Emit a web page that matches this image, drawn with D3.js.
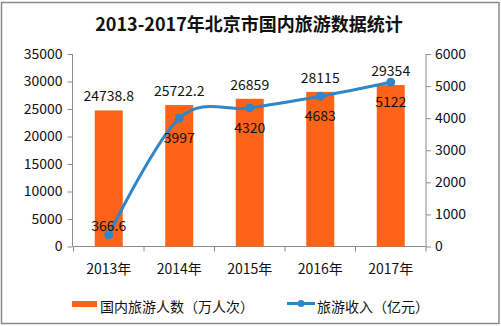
<!DOCTYPE html>
<html><head><meta charset="utf-8">
<script src="https://cdn.jsdelivr.net/npm/d3@7"></script>
<style>body{margin:0;background:#fff}svg{display:block}</style>
</head><body>
<script>
const title = "2013-2017年北京市国内旅游数据统计";
const categories = ["2013年","2014年","2015年","2016年","2017年"];
const visitors = [24738.8, 25722.2, 26859, 28115, 29354];
const visitorLabels = ["24738.8","25722.2","26859","28115","29354"];
const revenue = [366.6, 3997, 4320, 4683, 5122];
const revenueLabels = ["366.6","3997","4320","4683","5122"];
const leftTicks = [0,5000,10000,15000,20000,25000,30000,35000];
const rightTicks = [0,1000,2000,3000,4000,5000,6000];
const seriesNames = ["国内旅游人数（万人次）","旅游收入（亿元）"];

const W=501,H=326;
const font='"Noto Sans CJK SC","Noto Sans",sans-serif';
const barColor="#FF6319", lineColor="#2F86C9", axisColor="#8C8C8C";
const svg=d3.select("body").append("svg").attr("width",W).attr("height",H);
svg.append("rect").attr("x",1.5).attr("y",2.5).attr("width",497.5).attr("height",321)
  .attr("fill","#fff").attr("stroke","#8a8a8a").attr("stroke-width",1.5);

svg.append("text").attr("x",249).attr("y",23).attr("text-anchor","middle").attr("dominant-baseline","central")
  .attr("font-family",font).attr("font-weight","bold").attr("font-size",18).attr("fill","#111").text(title);

const x=d3.scaleBand().domain(categories).range([73.5,426]);
const yL=d3.scaleLinear().domain([0,35000]).range([246.5,54]);
const yR=d3.scaleLinear().domain([0,6000]).range([246.5,54]);
const bw=28;

// axes
const gL=svg.append("g").attr("transform","translate(72.5,0)")
  .call(d3.axisLeft(yL).tickValues(leftTicks).tickSize(5).tickPadding(5).tickFormat(d3.format("d")));
const gR=svg.append("g").attr("transform","translate(426,0)")
  .call(d3.axisRight(yR).tickValues(rightTicks).tickSize(5).tickPadding(4).tickFormat(d3.format("d")));
[gL,gR].forEach(g=>{
  g.select(".domain").attr("stroke",axisColor).attr("d", g===gL?"M0,54V246.5":"M0,54V246.5");
  g.selectAll(".tick line").attr("stroke",axisColor);
  g.selectAll("text").attr("font-family",font).attr("font-size",14).attr("fill","#111");
});
// x axis
const gX=svg.append("g").attr("transform","translate(0,246.5)");
gX.append("line").attr("x1",72.5).attr("x2",426).attr("stroke",axisColor);
const bounds=categories.map(c=>x(c)).concat([x.range()[1]]);
gX.selectAll(".xt").data(bounds).enter().append("line")
  .attr("x1",d=>d).attr("x2",d=>d).attr("y1",0).attr("y2",5).attr("stroke",axisColor);
gX.selectAll(".xl").data(categories).enter().append("text")
  .attr("x",d=>x(d)+x.bandwidth()/2).attr("y",21).attr("text-anchor","middle").attr("dominant-baseline","central")
  .attr("font-family",font).attr("font-size",14).attr("fill","#111").text(d=>d);

// bars
svg.selectAll(".bar").data(visitors).enter().append("rect")
  .attr("x",(d,i)=>x(categories[i])+x.bandwidth()/2-bw/2).attr("width",bw)
  .attr("y",d=>yL(d)).attr("height",d=>yL(0)-yL(d)).attr("fill",barColor);
svg.selectAll(".bl").data(visitors).enter().append("text")
  .attr("x",(d,i)=>x(categories[i])+x.bandwidth()/2).attr("y",d=>yL(d)-15)
  .attr("text-anchor","middle").attr("dominant-baseline","central")
  .attr("font-family",font).attr("font-size",14).attr("fill","#111").text((d,i)=>visitorLabels[i]);

// line
const cx=i=>x(categories[i])+x.bandwidth()/2;
const line=d3.line().x((d,i)=>cx(i)).y(d=>yR(d)).curve(d3.curveCardinal.tension(0));
svg.append("path").datum(revenue).attr("d",line).attr("fill","none").attr("stroke",lineColor).attr("stroke-width",3);
svg.selectAll(".pt").data(revenue).enter().append("circle")
  .attr("cx",(d,i)=>cx(i)).attr("cy",d=>yR(d)).attr("r",4.5).attr("fill",lineColor);
svg.selectAll(".ll").data(revenue).enter().append("text")
  .attr("x",(d,i)=>cx(i)).attr("y",(d,i)=>i===0?yR(d)-10:yR(d)+19)
  .attr("text-anchor","middle").attr("dominant-baseline","central")
  .attr("font-family",font).attr("font-size",14).attr("fill","#111").text((d,i)=>revenueLabels[i]);

// legend
const lg=svg.append("g");
lg.append("rect").attr("x",72).attr("y",301).attr("width",25).attr("height",6).attr("fill",barColor);
lg.append("text").attr("x",100).attr("y",306).attr("dominant-baseline","central")
  .attr("font-family",font).attr("font-size",14).attr("fill","#111").text(seriesNames[0]);
lg.append("line").attr("x1",287).attr("x2",315).attr("y1",303.5).attr("y2",303.5).attr("stroke",lineColor).attr("stroke-width",3);
lg.append("circle").attr("cx",301).attr("cy",303.5).attr("r",3.5).attr("fill",lineColor);
lg.append("text").attr("x",317).attr("y",306).attr("dominant-baseline","central")
  .attr("font-family",font).attr("font-size",14).attr("fill","#111").text(seriesNames[1]);
</script>
</body></html>
